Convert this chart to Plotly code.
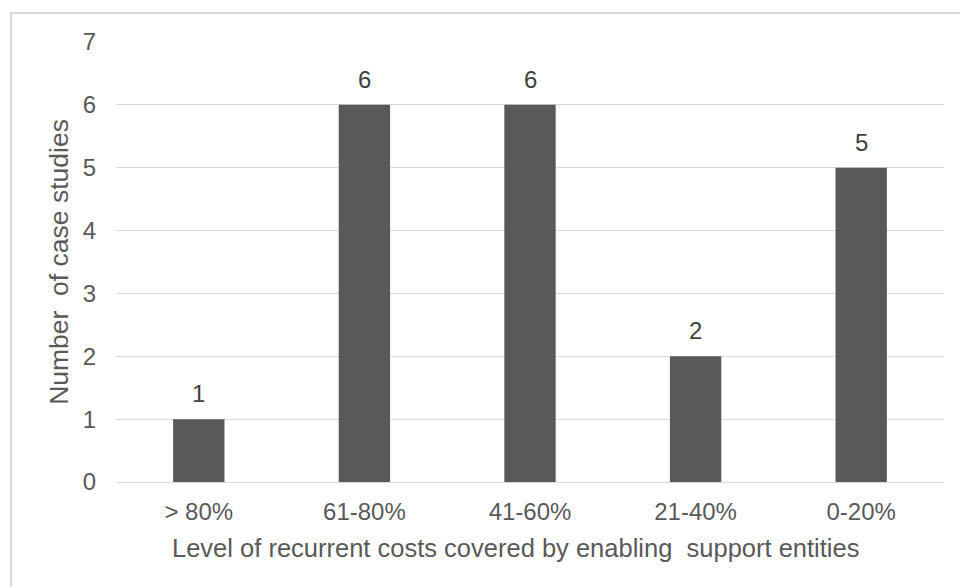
import plotly.graph_objects as go

categories = ["> 80%", "61-80%", "41-60%", "21-40%", "0-20%"]
case_counts = [1, 6, 6, 2, 5]
y_ticks = [0, 1, 2, 3, 4, 5, 6, 7]
x_title = "Level of recurrent costs covered by enabling\u00a0 support entities"
y_title = "Number\u00a0 of case studies"

FONT = "Liberation Sans, Arial, sans-serif"
TEXT_GRAY = "#595959"
LABEL_GRAY = "#404040"
GRID_GRAY = "#d9d9d9"

fig = go.Figure(
    go.Bar(
        x=categories,
        y=case_counts,
        width=0.31,
        marker=dict(color="#595959", line=dict(width=0)),
        hoverinfo="x+y",
    )
)

# value labels sitting above each bar
for cat, val in zip(categories, case_counts):
    fig.add_annotation(
        x=cat, y=val, xref="x", yref="y",
        text=str(val), showarrow=False,
        yanchor="bottom", yshift=10,
        font=dict(family=FONT, size=24, color=LABEL_GRAY),
    )

# horizontal axis title, centred under the whole chart area
fig.add_annotation(
    x=0.483, y=-0.15, xref="paper", yref="paper",
    text=x_title, showarrow=False,
    xanchor="center", yanchor="middle",
    font=dict(family=FONT, size=25.5, color=TEXT_GRAY),
)

fig.update_layout(
    width=960,
    height=587,
    margin=dict(l=116, r=16, t=42, b=105),
    paper_bgcolor="white",
    plot_bgcolor="white",
    showlegend=False,
    font=dict(family=FONT, size=22, color=TEXT_GRAY),
    shapes=[
        dict(
            type="rect", xref="paper", yref="paper",
            x0=-0.1268, x1=1.05, y0=-0.3, y1=1.066,
            line=dict(color=GRID_GRAY, width=2),
            fillcolor="rgba(0,0,0,0)", layer="below",
        )
    ],
)

fig.update_xaxes(
    type="category",
    showgrid=False,
    showline=False,
    ticks="",
    ticklabelstandoff=13,
    tickfont=dict(family=FONT, size=24, color=TEXT_GRAY),
)

fig.update_yaxes(
    range=[0, 7],
    tickvals=y_ticks,
    showgrid=True,
    gridcolor=GRID_GRAY,
    gridwidth=1,
    zeroline=True,
    zerolinecolor=GRID_GRAY,
    zerolinewidth=1,
    showline=False,
    ticks="",
    ticklabelstandoff=19,
    tickfont=dict(family=FONT, size=24, color=TEXT_GRAY),
    title=dict(
        text=y_title,
        font=dict(family=FONT, size=26.5, color=TEXT_GRAY),
        standoff=6,
    ),
)

fig.write_html("out.html")
